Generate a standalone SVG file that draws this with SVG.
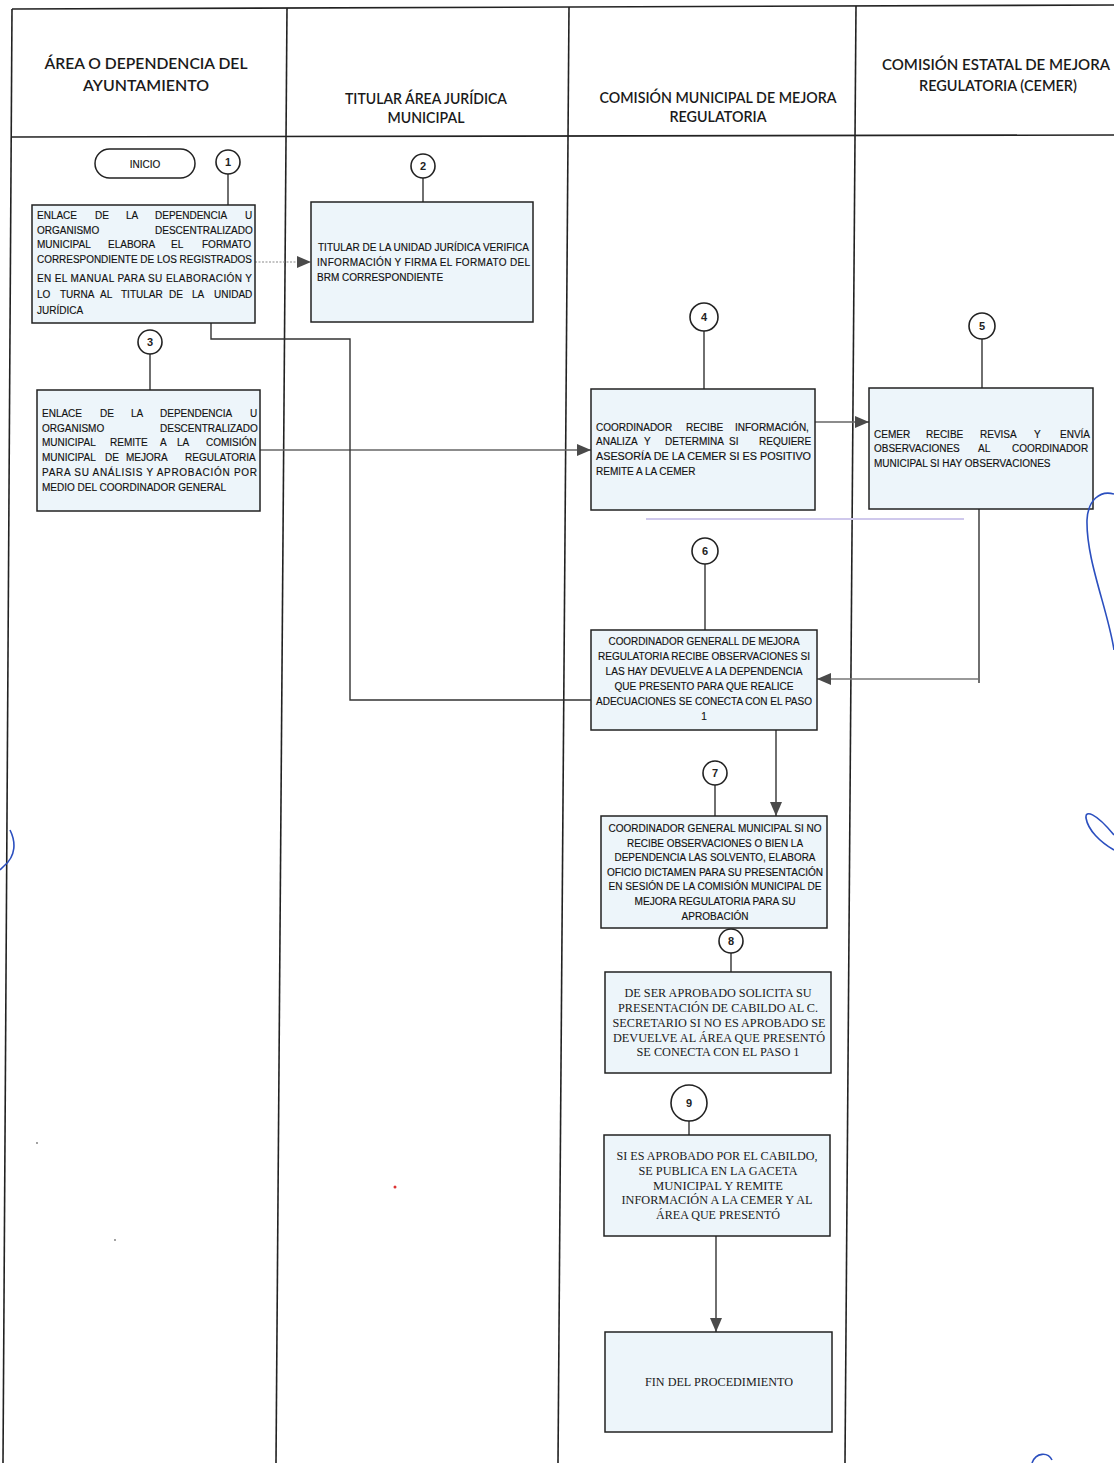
<svg xmlns="http://www.w3.org/2000/svg" width="1114" height="1463" viewBox="0 0 1114 1463">
<style>
.lane{stroke:#222;stroke-width:1.6;fill:none}
.box{fill:#edf5fa;stroke:#222;stroke-width:1.5}
.num{fill:#fff;stroke:#222;stroke-width:1.6}
.numt{font-family:"Liberation Sans",Arial,sans-serif;font-size:11px;font-weight:bold;fill:#222;text-anchor:middle}
.hd{font-family:Lato,"Open Sans","Liberation Sans",sans-serif;font-size:15px;font-weight:600;fill:#1a1a1a;text-anchor:middle}
.t{font-family:"Liberation Sans",Arial,sans-serif;font-size:10px;fill:#111;stroke:#111;stroke-width:0.15}
.tc{font-family:"Liberation Sans",Arial,sans-serif;font-size:10px;fill:#111;stroke:#111;stroke-width:0.15;text-anchor:middle}
.ts{font-family:"Liberation Serif","Times New Roman",serif;font-size:11.5px;fill:#1a1a1a;text-anchor:middle}
.con{stroke:#333;stroke-width:1.4;fill:none}
.ink{stroke:#2b4fbf;stroke-width:1.6;fill:none}
</style>
<defs>
<marker id="ah" markerUnits="userSpaceOnUse" markerWidth="16" markerHeight="12" refX="14" refY="6" orient="auto">
<path d="M0,0 L14,6 L0,12 Z" fill="#4a4a4a"/>
</marker>
</defs>
<rect x="0" y="0" width="1114" height="1463" fill="#fff"/>

<g id="lanes">
<line class="lane" x1="12" y1="9" x2="1114" y2="5"/>
<line class="lane" x1="12" y1="137" x2="1114" y2="135"/>
<line class="lane" x1="12" y1="9" x2="3" y2="1463"/>
<line class="lane" x1="287" y1="8" x2="276" y2="1463"/>
<line class="lane" x1="569" y1="7" x2="558" y2="1463"/>
<line class="lane" x1="856" y1="6" x2="845" y2="1463"/>
<text class="hd" x="146" y="69" textLength="203" lengthAdjust="spacingAndGlyphs">ÁREA O DEPENDENCIA DEL</text>
<text class="hd" x="146" y="91" textLength="126" lengthAdjust="spacingAndGlyphs">AYUNTAMIENTO</text>
<text class="hd" x="426" y="104" textLength="162" lengthAdjust="spacingAndGlyphs">TITULAR ÁREA JURÍDICA</text>
<text class="hd" x="426" y="123" textLength="77" lengthAdjust="spacingAndGlyphs">MUNICIPAL</text>
<text class="hd" x="718" y="103" textLength="237" lengthAdjust="spacingAndGlyphs">COMISIÓN MUNICIPAL DE MEJORA</text>
<text class="hd" x="718" y="122" textLength="97" lengthAdjust="spacingAndGlyphs">REGULATORIA</text>
<text class="hd" x="996" y="70" font-size="13.5">COMISIÓN ESTATAL DE MEJORA</text>
<text class="hd" x="998" y="91" textLength="158" lengthAdjust="spacingAndGlyphs">REGULATORIA (CEMER)</text>
</g>

<g id="connectors">
<line class="con" x1="228" y1="174" x2="228" y2="205"/>
<line class="con" x1="423" y1="178" x2="423" y2="202"/>
<line class="con" x1="150" y1="354" x2="150" y2="390"/>
<line class="con" x1="704" y1="331" x2="704" y2="389"/>
<line class="con" x1="982" y1="339" x2="982" y2="388"/>
<line class="con" x1="705" y1="564" x2="705" y2="630"/>
<line class="con" x1="715" y1="785" x2="715" y2="816"/>
<line class="con" x1="731" y1="953" x2="731" y2="972"/>
<line class="con" x1="689" y1="1121" x2="689" y2="1135"/>
<line x1="255" y1="262" x2="311" y2="262" stroke="#8a8a8a" stroke-width="1.1" stroke-dasharray="2 1.5" marker-end="url(#ah)"/>
<line x1="260" y1="450" x2="591" y2="450" stroke="#666" stroke-width="1.3" marker-end="url(#ah)"/>
<line x1="815" y1="422" x2="869" y2="422" stroke="#666" stroke-width="1.3" marker-end="url(#ah)"/>
<polyline class="con" points="979,509 979,683"/>
<polyline points="978,679 817,679" stroke="#777" stroke-width="1.3" fill="none" marker-end="url(#ah)"/>
<polyline class="con" points="591,700 350,700 350,339 211,339 211,323"/>
<line class="con" x1="776" y1="730" x2="776" y2="816" marker-end="url(#ah)"/>
<line class="con" x1="716" y1="1236" x2="716" y2="1332" marker-end="url(#ah)"/>
</g>

<g id="inicio">
<rect x="95" y="149" width="100" height="29" rx="14.5" fill="#fff" stroke="#222" stroke-width="1.5"/>
<text class="tc" x="145" y="168" font-size="11">INICIO</text>
</g>

<g id="n1">
<circle class="num" cx="228" cy="162" r="12"/><text class="numt" x="228" y="166">1</text>
<rect class="box" x="32" y="205" width="223" height="118"/>
<text class="t" y="218.5"><tspan x="37">ENLACE</tspan><tspan x="95">DE</tspan><tspan x="126">LA</tspan><tspan x="155">DEPENDENCIA</tspan><tspan x="245">U</tspan></text>
<text class="t" y="233.5"><tspan x="37">ORGANISMO</tspan><tspan x="155">DESCENTRALIZADO</tspan></text>
<text class="t" y="247.5"><tspan x="37">MUNICIPAL</tspan><tspan x="108">ELABORA</tspan><tspan x="171">EL</tspan><tspan x="202">FORMATO</tspan></text>
<text class="t" x="37" y="262.5" textLength="215" lengthAdjust="spacingAndGlyphs">CORRESPONDIENTE DE LOS REGISTRADOS</text>
<text class="t" x="37" y="281.5" textLength="215" lengthAdjust="spacing">EN EL MANUAL PARA SU ELABORACIÓN Y</text>
<text class="t" y="297.5"><tspan x="37">LO</tspan><tspan x="60">TURNA</tspan><tspan x="100">AL</tspan><tspan x="121">TITULAR</tspan><tspan x="169">DE</tspan><tspan x="192">LA</tspan><tspan x="214">UNIDAD</tspan></text>
<text class="t" x="37" y="313.5">JURÍDICA</text>
</g>

<g id="n2">
<circle class="num" cx="423" cy="166" r="12"/><text class="numt" x="423" y="170">2</text>
<rect class="box" x="311" y="202" width="222" height="120"/>
<text class="t" x="318" y="250.5" textLength="211" lengthAdjust="spacingAndGlyphs">TITULAR DE LA UNIDAD JURÍDICA VERIFICA</text>
<text class="t" x="317" y="265.5" textLength="213" lengthAdjust="spacing">INFORMACIÓN Y FIRMA EL FORMATO DEL</text>
<text class="t" x="317" y="280.5">BRM CORRESPONDIENTE</text>
</g>

<g id="n3">
<circle class="num" cx="150" cy="342" r="12"/><text class="numt" x="150" y="346">3</text>
<rect class="box" x="37" y="390" width="223" height="121"/>
<text class="t" y="416.5"><tspan x="42">ENLACE</tspan><tspan x="100">DE</tspan><tspan x="131">LA</tspan><tspan x="160">DEPENDENCIA</tspan><tspan x="250">U</tspan></text>
<text class="t" y="431.5"><tspan x="42">ORGANISMO</tspan><tspan x="160">DESCENTRALIZADO</tspan></text>
<text class="t" y="445.5"><tspan x="42">MUNICIPAL</tspan><tspan x="110">REMITE</tspan><tspan x="160">A</tspan><tspan x="177">LA</tspan><tspan x="206">COMISIÓN</tspan></text>
<text class="t" y="460.5"><tspan x="42">MUNICIPAL</tspan><tspan x="105">DE</tspan><tspan x="126">MEJORA</tspan><tspan x="185">REGULATORIA</tspan></text>
<text class="t" x="42" y="475.5" textLength="215" lengthAdjust="spacing">PARA SU ANÁLISIS Y APROBACIÓN POR</text>
<text class="t" x="42" y="490.5">MEDIO DEL COORDINADOR GENERAL</text>
</g>

<g id="n4">
<circle class="num" cx="704" cy="317" r="14"/><text class="numt" x="704" y="321">4</text>
<rect class="box" x="591" y="389" width="224" height="121"/>
<text class="t" y="430.5"><tspan x="596">COORDINADOR</tspan><tspan x="686">RECIBE</tspan><tspan x="735">INFORMACIÓN,</tspan></text>
<text class="t" y="444.5"><tspan x="596">ANALIZA</tspan><tspan x="644">Y</tspan><tspan x="665">DETERMINA</tspan><tspan x="729">SI</tspan><tspan x="759">REQUIERE</tspan></text>
<text class="t" x="596" y="459.5" textLength="215" lengthAdjust="spacingAndGlyphs">ASESORÍA DE LA CEMER SI ES POSITIVO</text>
<text class="t" x="596" y="474.5">REMITE A LA CEMER</text>
</g>

<g id="n5">
<circle class="num" cx="982" cy="326" r="13"/><text class="numt" x="982" y="330">5</text>
<rect class="box" x="869" y="388" width="224" height="121"/>
<text class="t" y="437.5"><tspan x="874">CEMER</tspan><tspan x="926">RECIBE</tspan><tspan x="980">REVISA</tspan><tspan x="1034">Y</tspan><tspan x="1060">ENVÍA</tspan></text>
<text class="t" y="451.5"><tspan x="874">OBSERVACIONES</tspan><tspan x="978">AL</tspan><tspan x="1012">COORDINADOR</tspan></text>
<text class="t" x="874" y="466.5">MUNICIPAL SI HAY OBSERVACIONES</text>
</g>

<g id="n6">
<circle class="num" cx="705" cy="551" r="13"/><text class="numt" x="705" y="555">6</text>
<rect class="box" x="591" y="630" width="226" height="100"/>
<text class="tc" x="704" y="644.5" textLength="191" lengthAdjust="spacingAndGlyphs">COORDINADOR GENERALL DE MEJORA</text>
<text class="tc" x="704" y="659.5" textLength="212" lengthAdjust="spacingAndGlyphs">REGULATORIA RECIBE OBSERVACIONES SI</text>
<text class="tc" x="704" y="674.5" textLength="197" lengthAdjust="spacingAndGlyphs">LAS HAY DEVUELVE A LA DEPENDENCIA</text>
<text class="tc" x="704" y="689.5" textLength="179" lengthAdjust="spacingAndGlyphs">QUE PRESENTO PARA QUE REALICE</text>
<text class="tc" x="704" y="704.5" textLength="216" lengthAdjust="spacingAndGlyphs">ADECUACIONES SE CONECTA CON EL PASO</text>
<text class="tc" x="704" y="719.5">1</text>
</g>

<g id="n7">
<circle class="num" cx="715" cy="773" r="12"/><text class="numt" x="715" y="777">7</text>
<rect class="box" x="601" y="816" width="226" height="112"/>
<text class="tc" x="715" y="831.5" textLength="213" lengthAdjust="spacingAndGlyphs">COORDINADOR GENERAL MUNICIPAL SI NO</text>
<text class="tc" x="715" y="846.5" textLength="176" lengthAdjust="spacingAndGlyphs">RECIBE OBSERVACIONES O BIEN LA</text>
<text class="tc" x="715" y="860.5" textLength="201" lengthAdjust="spacingAndGlyphs">DEPENDENCIA LAS SOLVENTO, ELABORA</text>
<text class="tc" x="715" y="875.5" textLength="216" lengthAdjust="spacingAndGlyphs">OFICIO DICTAMEN PARA SU PRESENTACIÓN</text>
<text class="tc" x="715" y="889.5" textLength="213" lengthAdjust="spacingAndGlyphs">EN SESIÓN DE LA COMISIÓN MUNICIPAL DE</text>
<text class="tc" x="715" y="904.5" textLength="161" lengthAdjust="spacingAndGlyphs">MEJORA REGULATORIA PARA SU</text>
<text class="tc" x="715" y="919.5" textLength="67" lengthAdjust="spacingAndGlyphs">APROBACIÓN</text>
</g>

<g id="n8">
<circle class="num" cx="731" cy="941" r="12"/><text class="numt" x="731" y="945">8</text>
<rect class="box" x="605" y="972" width="226" height="101"/>
<text class="ts" x="718" y="997" textLength="187" lengthAdjust="spacingAndGlyphs">DE SER APROBADO SOLICITA SU</text>
<text class="ts" x="718" y="1012" textLength="200" lengthAdjust="spacingAndGlyphs">PRESENTACIÓN DE CABILDO AL C.</text>
<text class="ts" x="719" y="1027" textLength="213" lengthAdjust="spacingAndGlyphs">SECRETARIO SI NO ES APROBADO SE</text>
<text class="ts" x="719" y="1042" textLength="212" lengthAdjust="spacingAndGlyphs">DEVUELVE AL ÁREA QUE PRESENTÓ</text>
<text class="ts" x="718" y="1056" textLength="163" lengthAdjust="spacingAndGlyphs">SE CONECTA CON EL PASO 1</text>
</g>

<g id="n9">
<circle class="num" cx="689" cy="1103" r="18"/><text class="numt" x="689" y="1107">9</text>
<rect class="box" x="604" y="1135" width="226" height="101"/>
<text class="ts" x="717" y="1160" textLength="201" lengthAdjust="spacingAndGlyphs">SI ES APROBADO POR EL CABILDO,</text>
<text class="ts" x="718" y="1175" textLength="159" lengthAdjust="spacingAndGlyphs">SE PUBLICA EN LA GACETA</text>
<text class="ts" x="718" y="1190" textLength="130" lengthAdjust="spacingAndGlyphs">MUNICIPAL Y REMITE</text>
<text class="ts" x="717" y="1204" textLength="191" lengthAdjust="spacingAndGlyphs">INFORMACIÓN A LA CEMER Y AL</text>
<text class="ts" x="718" y="1219" textLength="124" lengthAdjust="spacingAndGlyphs">ÁREA QUE PRESENTÓ</text>
</g>

<g id="fin">
<rect class="box" x="605" y="1332" width="227" height="100"/>
<text class="ts" x="719" y="1386" textLength="148" lengthAdjust="spacingAndGlyphs">FIN DEL PROCEDIMIENTO</text>
</g>

<g id="marks">
<line x1="646" y1="519" x2="964" y2="519" stroke="#cfc8ec" stroke-width="2"/>
<path class="ink" d="M1114,494 C1100,490 1088,500 1087,520 C1086,560 1108,610 1114,650"/>
<path class="ink" d="M1114,850 C1100,842 1088,830 1086,818 C1085,810 1095,812 1114,835"/>
<path class="ink" d="M10,830 C16,842 16,856 4,866 L0,870"/>
<path class="ink" d="M1032,1463 C1036,1452 1048,1452 1052,1460"/>
<circle cx="395" cy="1187" r="1.5" fill="#d33"/>
<circle cx="37" cy="1143" r="0.9" fill="#777"/>
<circle cx="115" cy="1240" r="0.9" fill="#777"/>
</g>
</svg>
